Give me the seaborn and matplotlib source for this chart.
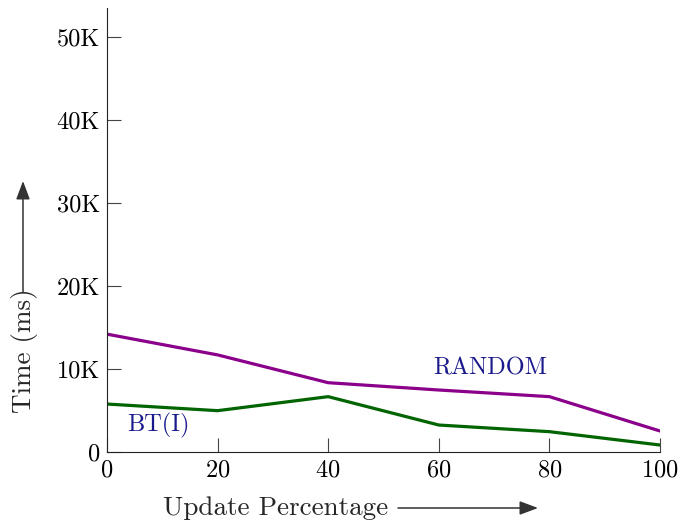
import matplotlib
matplotlib.use("Agg")
import matplotlib.pyplot as plt
import seaborn as sns
import pandas as pd
from matplotlib.ticker import FixedLocator, FixedFormatter

x_vals = [0, 20, 40, 60, 80, 100]
random_vals = [14200, 11700, 8350, 7470, 6670, 2530]
bti_vals = [5780, 4980, 6670, 3250, 2450, 840]
y_ticks = [0, 10000, 20000, 30000, 40000, 50000]
y_tick_labels = ["0", "10K", "20K", "30K", "40K", "50K"]
x_ticks = [0, 20, 40, 60, 80, 100]
series_names = ["RANDOM", "BT(I)"]

sns.set_theme(style="ticks")
plt.rcParams["font.family"] = ["cmr10", "DejaVu Serif"]
plt.rcParams["mathtext.fontset"] = "cm"
plt.rcParams["axes.formatter.use_mathtext"] = True

df = pd.DataFrame({
    "x": x_vals * 2,
    "y": random_vals + bti_vals,
    "series": [series_names[0]] * len(x_vals) + [series_names[1]] * len(x_vals),
})

fig = plt.figure(figsize=(6.79, 5.2), dpi=100)
ax = fig.add_axes([107/679, 1-452/520, (660-107)/679, (452-8)/520])
sns.lineplot(data=df, x="x", y="y", hue="series",
             palette={"RANDOM": "#8b008b", "BT(I)": "#006400"},
             linewidth=2.3, legend=False, ax=ax)

ax.set_xlim(0, 100)
ax.set_ylim(0, 53500)
ax.yaxis.set_major_locator(FixedLocator(y_ticks))
ax.yaxis.set_major_formatter(FixedFormatter(y_tick_labels))
ax.xaxis.set_major_locator(FixedLocator(x_ticks))
ax.tick_params(axis="both", direction="in", length=10, width=0.8, labelsize=17.5,
               color="#444444", labelcolor="black", pad=5)
for s in ["top", "right"]:
    ax.spines[s].set_visible(False)
for s in ["left", "bottom"]:
    ax.spines[s].set_linewidth(0.8)
    ax.spines[s].set_color("#222222")

ax.set_xlabel("Update Percentage", fontsize=19.5)
ax.set_ylabel("Time (ms)", fontsize=19.5)
ax.xaxis.set_label_coords((276-107)/553, (452-508)/444)
ax.xaxis.label.set_va("center")
ax.yaxis.set_label_coords((24-107)/553, (452-350.5)/444)
ax.yaxis.label.set_va("center")

ax.text(69.3, 10100, series_names[0], color="#1a1a8c", fontsize=17.5, ha="center", va="center")
ax.text(9.2, 3250, series_names[1], color="#1a1a8c", fontsize=17.5, ha="center", va="center")

ap = dict(arrowstyle="-|>,head_length=0.8,head_width=0.3", color="#333333", lw=1.1,
          mutation_scale=14, shrinkA=0, shrinkB=0)
ax.annotate("", xy=(23/679, 1-181/520), xytext=(23/679, 1-292/520),
            xycoords="figure fraction", textcoords="figure fraction", arrowprops=ap)
ax.annotate("", xy=(538/679, 1-508/520), xytext=(398/679, 1-508/520),
            xycoords="figure fraction", textcoords="figure fraction", arrowprops=ap)

fig.savefig("out.png", dpi=100)
